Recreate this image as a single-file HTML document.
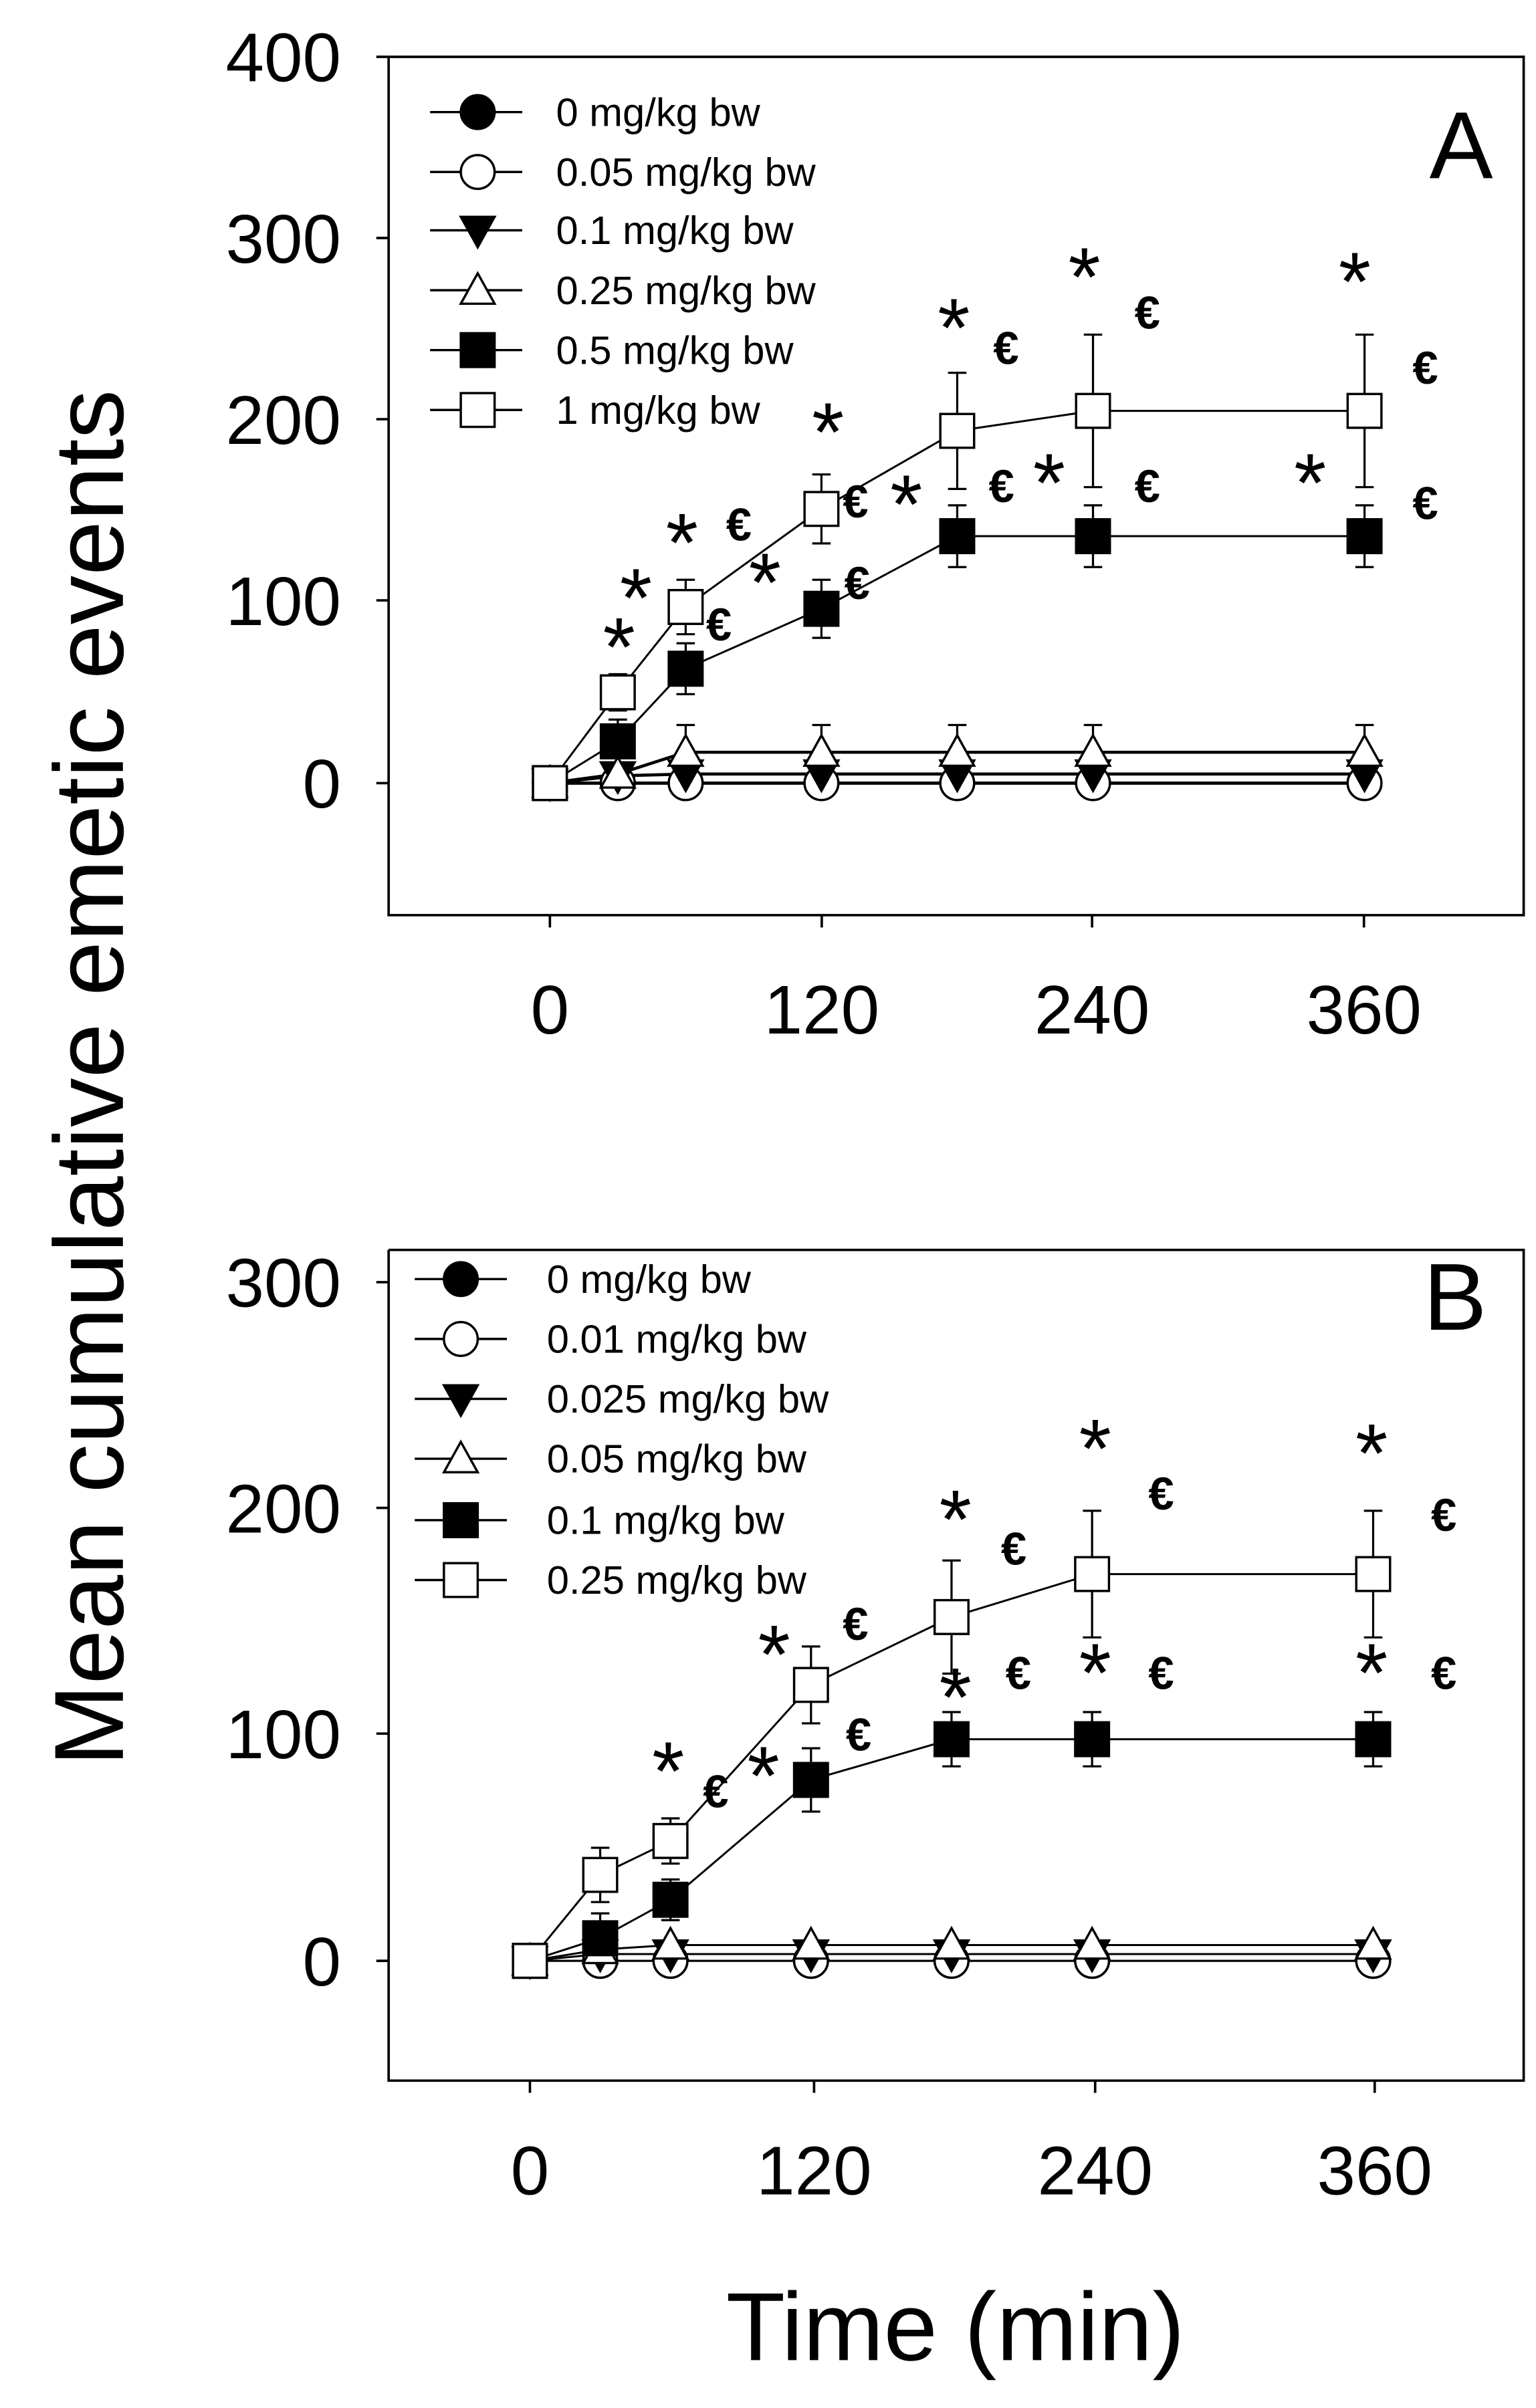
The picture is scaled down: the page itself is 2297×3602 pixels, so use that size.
<!DOCTYPE html>
<html><head><meta charset="utf-8"><style>html,body{margin:0;padding:0;background:#fff}svg{display:block}</style></head><body>
<svg id="s" xmlns="http://www.w3.org/2000/svg" width="2297" height="3602" viewBox="0 0 1000 1568.2" font-family="Liberation Sans, Arial, sans-serif">
<rect width="1000" height="1568.2" fill="#fff"/>
<g stroke="#000" stroke-width="1.6" fill="none">
<path d="M253,37 V596 H992 V37 H253"/>
<path d="M253,37h-8M253,155h-8M253,273h-8M253,391h-8M253,510h-8"/>
<path d="M358,596v8M535,596v8M711,596v8M888,596v8"/>
<path d="M253,814 V1355 H992 V814 H253"/>
<path d="M253,835h-8M253,982h-8M253,1129h-8M253,1277h-8"/>
<path d="M345,1355v8M530,1355v8M713,1355v8M895,1355v8"/>
</g>
<g font-size="45" text-anchor="end" fill="#000">
<text x="222" y="53">400</text><text x="222" y="171">300</text><text x="222" y="289">200</text><text x="222" y="407">100</text><text x="222" y="526">0</text>
<text x="222" y="851">300</text><text x="222" y="998">200</text><text x="222" y="1145">100</text><text x="222" y="1293">0</text>
</g>
<g font-size="45" text-anchor="middle" fill="#000">
<text x="358" y="673">0</text><text x="535" y="673">120</text><text x="711" y="673">240</text><text x="888" y="673">360</text>
<text x="345" y="1429">0</text><text x="530" y="1429">120</text><text x="713" y="1429">240</text><text x="895" y="1429">360</text>
<text x="622" y="1537" font-size="63">Time (min)</text>
<text transform="translate(80,702) rotate(-90)" font-size="64">Mean cumulative emetic events</text>
</g>
<text x="972" y="116" font-size="62" text-anchor="end">A</text>
<text x="968" y="866" font-size="62" text-anchor="end">B</text>
<g font-size="26" fill="#000">
<text x="362" y="82">0 mg/kg bw</text><text x="362" y="121">0.05 mg/kg bw</text><text x="362" y="159">0.1 mg/kg bw</text><text x="362" y="198">0.25 mg/kg bw</text><text x="362" y="237">0.5 mg/kg bw</text><text x="362" y="276">1 mg/kg bw</text>
<text x="356" y="842">0 mg/kg bw</text><text x="356" y="881">0.01 mg/kg bw</text><text x="356" y="920">0.025 mg/kg bw</text><text x="356" y="959">0.05 mg/kg bw</text><text x="356" y="999">0.1 mg/kg bw</text><text x="356" y="1038">0.25 mg/kg bw</text>
</g>
<g id="dyn"></g>
<g text-anchor="middle" id="ann"></g>
</svg>
<script>
const NS="http://www.w3.org/2000/svg",g=document.getElementById('dyn'),an=document.getElementById('ann');
function el(t,a,p){const e=document.createElementNS(NS,t);for(const k in a)e.setAttribute(k,a[k]);(p||g).appendChild(e);return e;}
const T=[0,30,60,120,180,240,360];
function marker(type,x,y,r){r=r||11;
 if(type=='fc'||type=='oc')el('circle',{cx:x,cy:y,r:r,fill:type=='fc'?'#000':'#fff',stroke:'#000','stroke-width':1.5});
 else if(type=='fs'||type=='os')el('rect',{x:x-r,y:y-r,width:2*r,height:2*r,fill:type=='fs'?'#000':'#fff',stroke:'#000','stroke-width':1.5});
 else if(type=='dt')el('path',{d:`M${x-r},${y-r*0.8}H${x+r}L${x},${y+r}Z`,fill:'#000',stroke:'#000','stroke-width':1.5});
 else el('path',{d:`M${x-r},${y+r*0.8}H${x+r}L${x},${y-r}Z`,fill:'#fff',stroke:'#000','stroke-width':1.5});}
function panel(X,Y,series){
 series.forEach(s=>{const pts=T.map((t,i)=>[X(t),Y(s.v[i])]);
  el('polyline',{points:pts.map(p=>p.join(',')).join(' '),fill:'none',stroke:'#000','stroke-width':s.w||1.3});
  if(s.e)T.forEach((t,i)=>{if(!s.e[i])return;const x=X(t),y1=Y(s.v[i]+s.e[i]),y2=Y(s.v[i]-s.e[i]);
   el('path',{d:`M${x},${y1}V${y2}M${x-6},${y1}h12M${x-6},${y2}h12`,stroke:'#000','stroke-width':1.4});});
 });
 series.forEach(s=>T.forEach((t,i)=>marker(s.m,X(t),Y(s.v[i]))));}
const XA=t=>358+t*1.4733,YA=v=>510-v*1.1825;
panel(XA,YA,[
 {m:'fc',v:[0,0,0,0,0,0,0],w:2},{m:'oc',v:[0,0,0,0,0,0,0],w:2},{m:'dt',v:[0,4,5,5,5,5,5],w:2},
 {m:'ut',v:[0,5,17,17,17,17,17],e:[0,0,15,15,15,15,15],w:2},
 {m:'fs',v:[0,23,63,96,136,136,136],e:[0,12,14,16,17,17,17]},
 {m:'os',v:[0,50,97,151,194,205,205],e:[0,10,15,19,32,42,42]}]);
const XB=t=>345+t*1.525,YB=v=>1277-v*1.473;
panel(XB,YB,[
 {m:'fc',v:[0,0,0,0,0,0,0]},{m:'oc',v:[0,0,0,0,0,0,0]},{m:'dt',v:[0,3,3,3,3,3,3]},
 {m:'ut',v:[0,5,7,7,7,7,7]},
 {m:'fs',v:[0,10,27,80,98,98,98],e:[0,11,9,14,12,12,12]},
 {m:'os',v:[0,38,53,122,152,171,171],e:[0,12,10,17,25,28,28]}]);
[[280,340,311,[73,112,150,189,228,267],['fc','oc','dt','ut','fs','os']],[270,330,300,[833,872,911,950,990,1029],['fc','oc','dt','ut','fs','os']]].forEach(L=>{
 L[3].forEach((y,i)=>{el('path',{d:`M${L[0]},${y}H${L[1]}`,stroke:'#000','stroke-width':1.5});marker(L[4][i],L[2],y);});});
const A=[['*',403,440],['*',414,408],['*',444,372],['€',481,352],['*',498,398],['€',468,417],['€',558,390],['*',539,300],['€',557,337],['*',590,347],['*',621,232],['€',655,237],['€',652,327],['*',683,333],['*',706,199],['€',747,214],['€',747,327],['*',882,202],['€',928,250],['*',853,333],['€',928,338],
['*',435,1172],['€',466,1177],['*',497,1175],['*',504,1096],['€',557,1068],['€',559,1140],['*',622,1008],['€',660,1019],['*',622,1124],['€',663,1100],['*',713,962],['€',756,983],['*',713,1108],['€',756,1100],['*',893,965],['€',940,997],['*',893,1108],['€',940,1100]];
A.forEach(a=>{const t=el('text',{x:a[1],y:a[2],'font-size':a[0]=='*'?54:30,'font-weight':a[0]=='*'?'normal':'bold'},an);t.textContent=a[0];});
</script>
</body></html>
